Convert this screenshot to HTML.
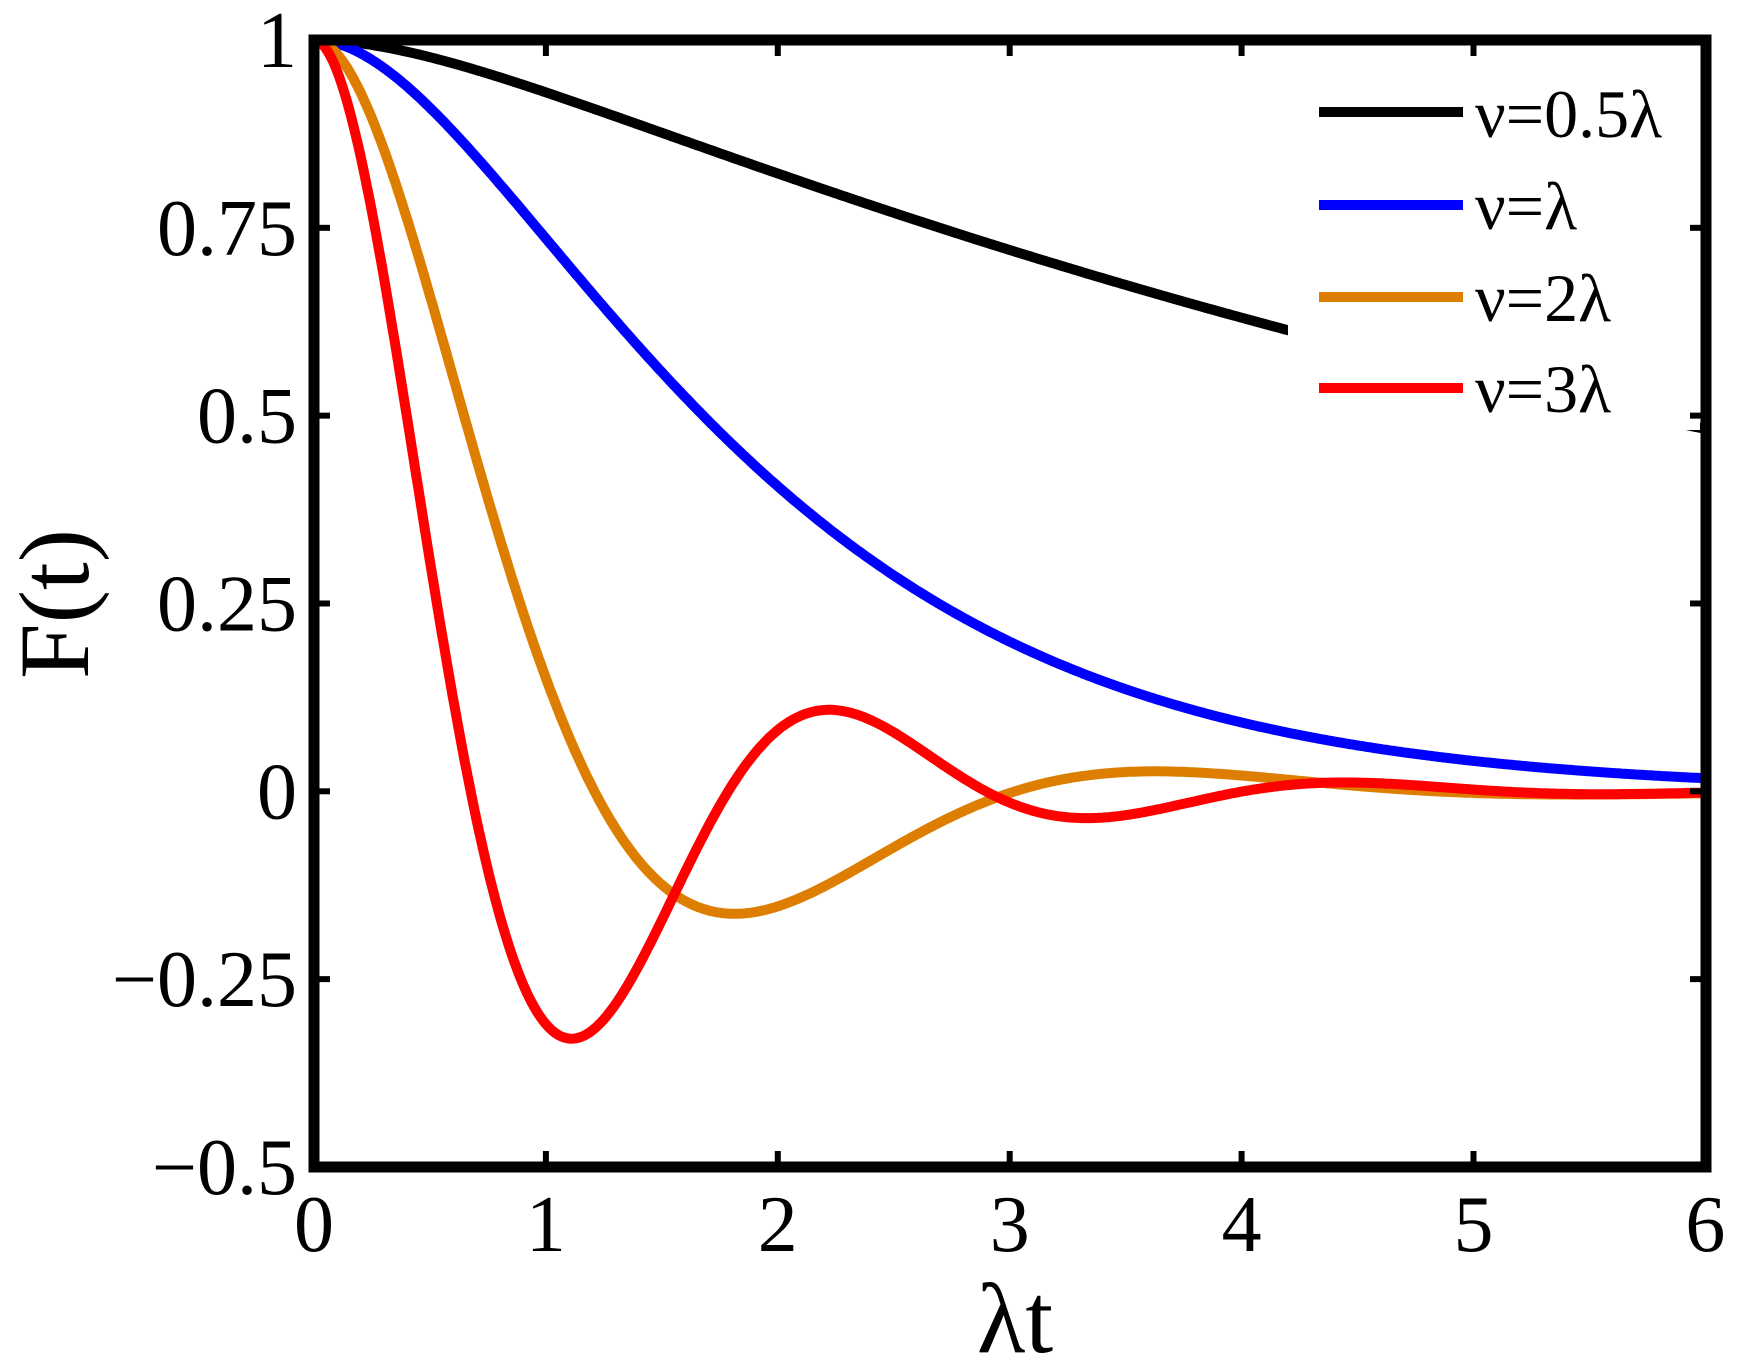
<!DOCTYPE html>
<html><head><meta charset="utf-8"><style>
html,body{margin:0;padding:0;background:#fff;}
svg{display:block;}
text{font-family:"Liberation Serif",serif;fill:#000;}
</style></head><body>
<svg id="s" width="1743" height="1363" viewBox="0 0 1743 1363" xmlns="http://www.w3.org/2000/svg">
<rect width="1743" height="1363" fill="#fff"/>
<defs><clipPath id="c"><rect x="314" y="40" width="1392" height="1127"/></clipPath></defs>
<g id="curves" clip-path="url(#c)" fill="none" stroke-width="10" stroke-linejoin="round"></g>
<rect x="1288" y="60" width="412" height="370" fill="#fff"/>
<g id="ticks" stroke="#000" stroke-width="6"></g>
<rect x="314" y="40" width="1392" height="1127" fill="none" stroke="#000" stroke-width="11"/>
<g font-size="80" text-anchor="end" id="ylab"></g>
<g font-size="80" text-anchor="middle" id="xlab"></g>
<text x="1015" y="1352" font-size="100" text-anchor="middle">λt</text>
<text transform="translate(88,604) rotate(-90)" font-size="100" text-anchor="middle">F(t)</text>
<g stroke-width="10">
<line x1="1319" y1="112" x2="1463" y2="112" stroke="#000"/>
<line x1="1319" y1="205" x2="1463" y2="205" stroke="#0000ff"/>
<line x1="1319" y1="297" x2="1463" y2="297" stroke="#de7e00"/>
<line x1="1319" y1="388" x2="1463" y2="388" stroke="#ff0000"/>
</g>
<g font-size="68">
<text x="1475" y="137">ν=0.5λ</text>
<text x="1475" y="229">ν=λ</text>
<text x="1475" y="321">ν=2λ</text>
<text x="1475" y="412">ν=3λ</text>
</g>
</svg>
<script>
var X=function(t){return 314+t*231.9;},Y=function(v){return 40+(1-v)*751.3;};
function f(nu,t){var w2=nu*nu;
 if(Math.abs(w2-1)<1e-9)return Math.exp(-t)*(1+t);
 if(w2<1){var s=Math.sqrt(1-w2),r1=-1+s,r2=-1-s;return (r2*Math.exp(r1*t)-r1*Math.exp(r2*t))/(r2-r1);}
 var O=Math.sqrt(w2-1);return Math.exp(-t)*(Math.cos(O*t)+Math.sin(O*t)/O);}
var cs=[[0.5,"#000"],[1,"#0000ff"],[2,"#de7e00"],[3,"#ff0000"]],ns="http://www.w3.org/2000/svg";
var g=document.getElementById("curves");
cs.forEach(function(c){var d="";for(var i=0;i<=600;i++){var t=i*0.01;d+=(i?"L":"M")+X(t).toFixed(1)+","+Y(f(c[0],t)).toFixed(1);}
 var p=document.createElementNS(ns,"path");p.setAttribute("d",d);p.setAttribute("stroke",c[1]);g.appendChild(p);});
var tk=document.getElementById("ticks"),yl=document.getElementById("ylab"),xl=document.getElementById("xlab");
function line(a,b,c,d){var l=document.createElementNS(ns,"line");l.setAttribute("x1",a);l.setAttribute("y1",b);l.setAttribute("x2",c);l.setAttribute("y2",d);tk.appendChild(l);}
function txt(par,x,y,s){var e=document.createElementNS(ns,"text");e.setAttribute("x",x);e.setAttribute("y",y);e.textContent=s;par.appendChild(e);}
[[1,"1"],[0.75,"0.75"],[0.5,"0.5"],[0.25,"0.25"],[0,"0"],[-0.25,"−0.25"],[-0.5,"−0.5"]].forEach(function(v){var y=Y(v[0]);
 line(314,y,330,y);line(1690,y,1706,y);txt(yl,297,y+27,v[1]);});
for(var i=0;i<=6;i++){var x=X(i);line(x,40,x,56);line(x,1151,x,1167);txt(xl,x,1251,String(i));}
</script>
</body></html>
